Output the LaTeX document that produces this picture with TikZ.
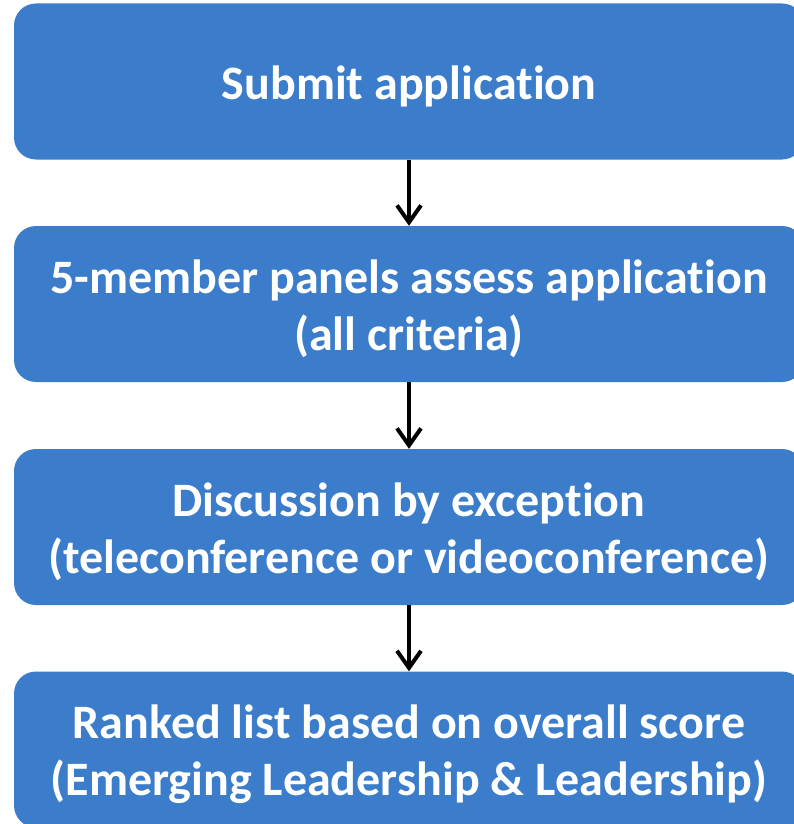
\documentclass[tikz,border=0pt]{standalone}
\usepackage{fontspec}
\setmainfont{Carlito}[Ligatures=NoCommon]
\usetikzlibrary{arrows.meta}
\definecolor{boxblue}{RGB}{59,125,203}
\tikzset{
  stepbox/.style={fill=boxblue, draw=none, rounded corners=22pt, minimum width=790pt, minimum height=156pt, inner sep=0pt},
  steptext/.style={text=white, align=center, inner sep=0pt, yshift=-4.5pt, font=\fontsize{48}{57}\selectfont\bfseries},
  flowarrow/.style={line width=4pt, -{Straight Barb[length=17pt,width=24pt,line width=4pt]}}
}
\begin{document}
\begin{tikzpicture}[x=1pt,y=-1pt]
\useasboundingbox (0,0) rectangle (794,824);
\node[stepbox] (b1) at (409,81.5) {};
\node[stepbox] (b2) at (409,304) {};
\node[stepbox] (b3) at (409,527) {};
\node[stepbox] (b4) at (409,749.5) {};
\node[steptext] (t1) at (b1.center) {Submit application};
\node[steptext] (t2) at (b2.center) {5-member panels assess application\\(all criteria)};
\node[steptext] (t3) at (b3.center) {Discussion by exception\\(teleconference or videoconference)};
\node[steptext] (t4) at (b4.center) {Ranked list based on overall score\\(Emerging Leadership \& Leadership)};
\draw[flowarrow] (b1.south) -- (b2.north);
\draw[flowarrow] (b2.south) -- (b3.north);
\draw[flowarrow] (b3.south) -- (b4.north);
\end{tikzpicture}
\end{document}
